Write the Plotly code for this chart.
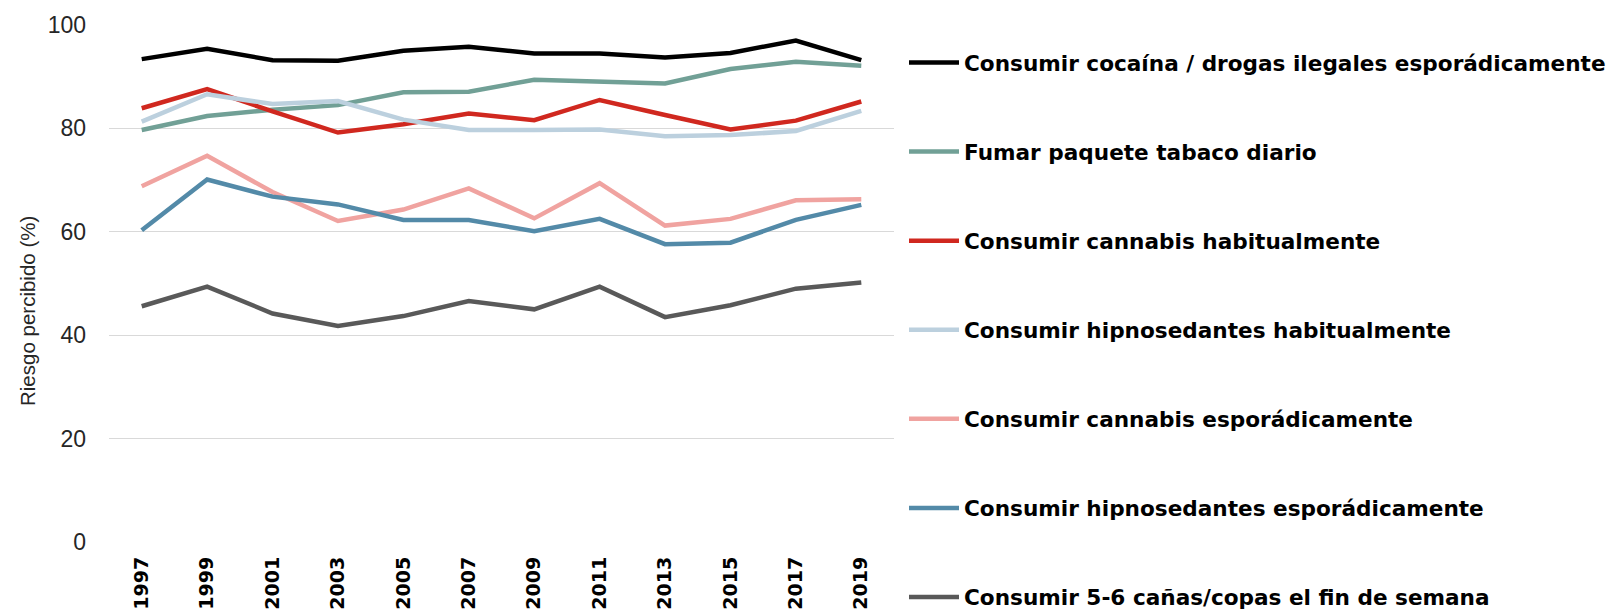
import plotly.graph_objects as go

years = ["1997", "1999", "2001", "2003", "2005", "2007", "2009", "2011", "2013", "2015", "2017", "2019"]

cocaina_esporadico = [93.4, 95.4, 93.2, 93.1, 95.0, 95.8, 94.5, 94.5, 93.7, 94.6, 97.0, 93.2]
tabaco_diario = [79.7, 82.4, 83.6, 84.5, 87.0, 87.1, 89.4, 89.1, 88.7, 91.5, 92.9, 92.1]
cannabis_habitual = [83.9, 87.6, 83.3, 79.2, 80.8, 82.9, 81.6, 85.5, 82.6, 79.8, 81.5, 85.2]
hipno_habitual = [81.3, 86.6, 84.7, 85.3, 81.7, 79.7, 79.7, 79.8, 78.5, 78.7, 79.5, 83.4]
cannabis_esporadico = [68.8, 74.7, 67.7, 62.1, 64.3, 68.4, 62.6, 69.4, 61.2, 62.5, 66.1, 66.3]
hipno_esporadico = [60.3, 70.1, 66.8, 65.3, 62.3, 62.3, 60.1, 62.5, 57.6, 57.9, 62.3, 65.2]
alcohol_finde = [45.6, 49.4, 44.2, 41.8, 43.7, 46.6, 45.0, 49.4, 43.5, 45.8, 49.0, 50.2]

series_names = [
    "Consumir cocaína / drogas ilegales esporádicamente",
    "Fumar paquete tabaco diario",
    "Consumir cannabis habitualmente",
    "Consumir hipnosedantes habitualmente",
    "Consumir cannabis esporádicamente",
    "Consumir hipnosedantes esporádicamente",
    "Consumir 5-6 cañas/copas el fin de semana",
]
series_values = [cocaina_esporadico, tabaco_diario, cannabis_habitual, hipno_habitual,
                 cannabis_esporadico, hipno_esporadico, alcohol_finde]
colors = ["#000000", "#71a096", "#d0281f", "#bcd0de", "#f0a3a0", "#538aa8", "#595959"]

y_ticks = [0, 20, 40, 60, 80, 100]

fig = go.Figure()
for name, vals, col in zip(series_names, series_values, colors):
    fig.add_trace(go.Scatter(
        x=years, y=vals, mode="lines", name=name, legendgroup=name,
        line=dict(color=col, width=4.5), hoverinfo="x+y+name",
    ))

W, H = 1612, 613
L, R, T, B = 109, 894, 25, 542

fig.update_layout(
    width=W, height=H,
    margin=dict(l=L, r=W - R, t=T, b=H - B, pad=0, autoexpand=False),
    paper_bgcolor="white", plot_bgcolor="white",
    showlegend=True,
    legend=dict(
        x=(904 - L) / (R - L), xanchor="left",
        y=(B - 42) / (B - T), yanchor="top",
        font=dict(family="DejaVu Sans, sans-serif",
                  size=21.6, color="#000000", weight="bold"),
        tracegroupgap=58, itemwidth=50,
        maxheight=613,
        bgcolor="rgba(0,0,0,0)",
    ),
    xaxis=dict(
        type="category", range=[-0.5, 11.5], automargin=False,
        showgrid=False, zeroline=False, showline=False, ticks="",
        tickangle=-90, ticklabelstandoff=10,
        tickfont=dict(family="DejaVu Sans", size=19, color="#000000", weight="bold"),
    ),
    yaxis=dict(
        range=[0, 100], tickvals=y_ticks, ticktext=[str(v) for v in y_ticks],
        automargin=False,
        showgrid=True, gridcolor="#d9d9d9", gridwidth=1.3,
        zeroline=False, showline=False, ticks="", ticklabelstandoff=22,
        tickfont=dict(family="Liberation Sans, Arial, sans-serif", size=23, color="#262626"),
    ),
    annotations=[dict(
        text="Riesgo percibido (%)", textangle=-90,
        xref="paper", yref="paper",
        x=(27 - L) / (R - L), y=(B - 311) / (B - T),
        xanchor="center", yanchor="middle", showarrow=False,
        font=dict(family="Liberation Sans, Arial, sans-serif", size=20.5, color="#262626"),
    )],
)

fig.write_html(
    "out.html",
    config={"displayModeBar": False},
    post_script="document.body.style.margin='0';document.body.style.overflow='hidden';",
)
